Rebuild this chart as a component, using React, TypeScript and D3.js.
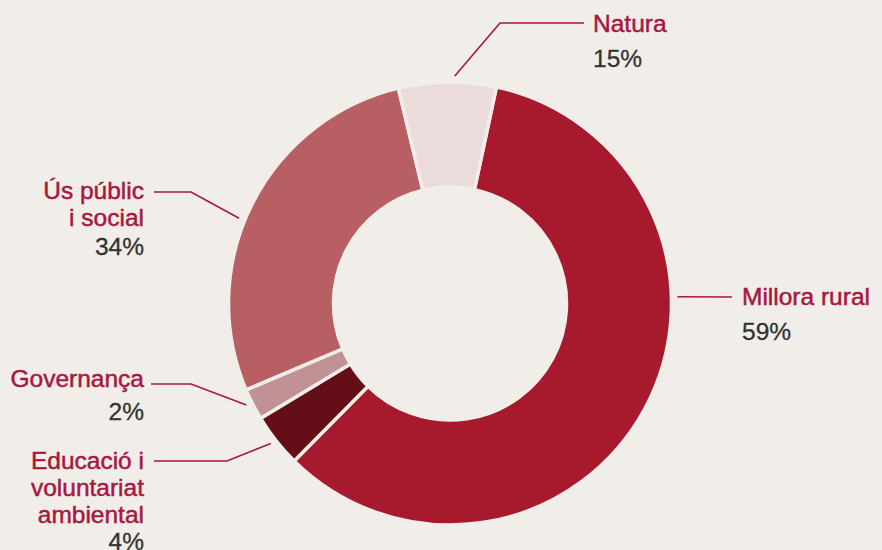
import React from 'react'
import * as d3 from 'd3'

// slice shares as drawn (the printed percentages are the original labels)
const categories = ['Millora rural', 'Educació i voluntariat ambiental', 'Governança', 'Ús públic i social', 'Natura']
const shares = [59, 3.9, 2.3, 27.6, 7.1]
const pctLabels = ['59%', '4%', '2%', '34%', '15%']
const colors = ['#a71a2e', '#640f18', '#c19196', '#b75f62', '#ebdcdb']

// label layout: anchor angle (deg, clockwise from top), elbow point, text anchor point
const labelLayout = [
  { angle: 88.3, elbow: [732, 297], end: [732, 297], tx: 742, ty: 305, anchor: 'start', lines: ['Millora rural'], lh: 35 },
  { angle: 232, elbow: [227, 461], end: [154, 461], tx: 144, ty: 469, anchor: 'end', lines: ['Educació i', 'voluntariat', 'ambiental'], lh: 27 },
  { angle: 243.5, elbow: [191, 384], end: [151, 384], tx: 144, ty: 387, anchor: 'end', lines: ['Governança'], lh: 33 },
  { angle: 292, elbow: [191, 192], end: [154, 192], tx: 144, ty: 199, anchor: 'end', lines: ['Ús públic', 'i social'], lh: 29 },
  { angle: 1.2, elbow: [500, 23], end: [584, 23], tx: 593, ty: 32, anchor: 'start', lines: ['Natura'], lh: 35 },
]

const W = 882
const H = 550
const cx = 450
const cy = 303.5
const outerR = 221.5
const innerR = 116.5
const bg = '#f1eee9'
const labelColor = '#a8173f'
const pctColor = '#333333'

export default function App() {
  const start = (12.1 * Math.PI) / 180
  const pie = d3
    .pie<number>()
    .sort(null)
    .value((d) => d)
    .startAngle(start)
    .endAngle(start + Math.PI * 2)
  const arcs = pie(shares)
  const arc = d3.arc<d3.PieArcDatum<number>>().innerRadius(innerR).outerRadius(outerR)

  return (
    <svg
      width={W}
      height={H}
      style={{ position: 'fixed', left: 0, top: 0, background: bg, display: 'block' }}
      fontFamily="'Liberation Sans', Arial, sans-serif"
    >
      <rect width={W} height={H} fill={bg} />
      <g transform={`translate(${cx},${cy})`}>
        {arcs.map((a, i) => (
          <path key={categories[i]} d={arc(a) || ''} fill={colors[i]} stroke={bg} strokeWidth={3.5} />
        ))}
      </g>
      {labelLayout.map((l, i) => {
        const rad = (l.angle * Math.PI) / 180
        const r = outerR + 6
        const x0 = cx + r * Math.sin(rad)
        const y0 = cy - r * Math.cos(rad)
        const pts: [number, number][] = [[x0, y0], l.elbow as [number, number], l.end as [number, number]]
        const line = d3.line()(pts) || ''
        return (
          <g key={categories[i]}>
            <path d={line} fill="none" stroke={labelColor} strokeWidth={1.6} />
            <text x={l.tx} y={l.ty} textAnchor={l.anchor} fontSize={24.5} fill={labelColor} stroke={labelColor} strokeWidth={0.5}>
              {l.lines.map((t, j) => (
                <tspan key={j} x={l.tx} dy={j === 0 ? 0 : 27}>
                  {t}
                </tspan>
              ))}
            </text>
            <text
              x={l.tx}
              y={l.ty + (l.lines.length - 1) * 27 + l.lh}
              textAnchor={l.anchor}
              fontSize={24.5}
              fill={pctColor}
              stroke={pctColor}
              strokeWidth={0.3}
            >
              {pctLabels[i]}
            </text>
          </g>
        )
      })}
    </svg>
  )
}
